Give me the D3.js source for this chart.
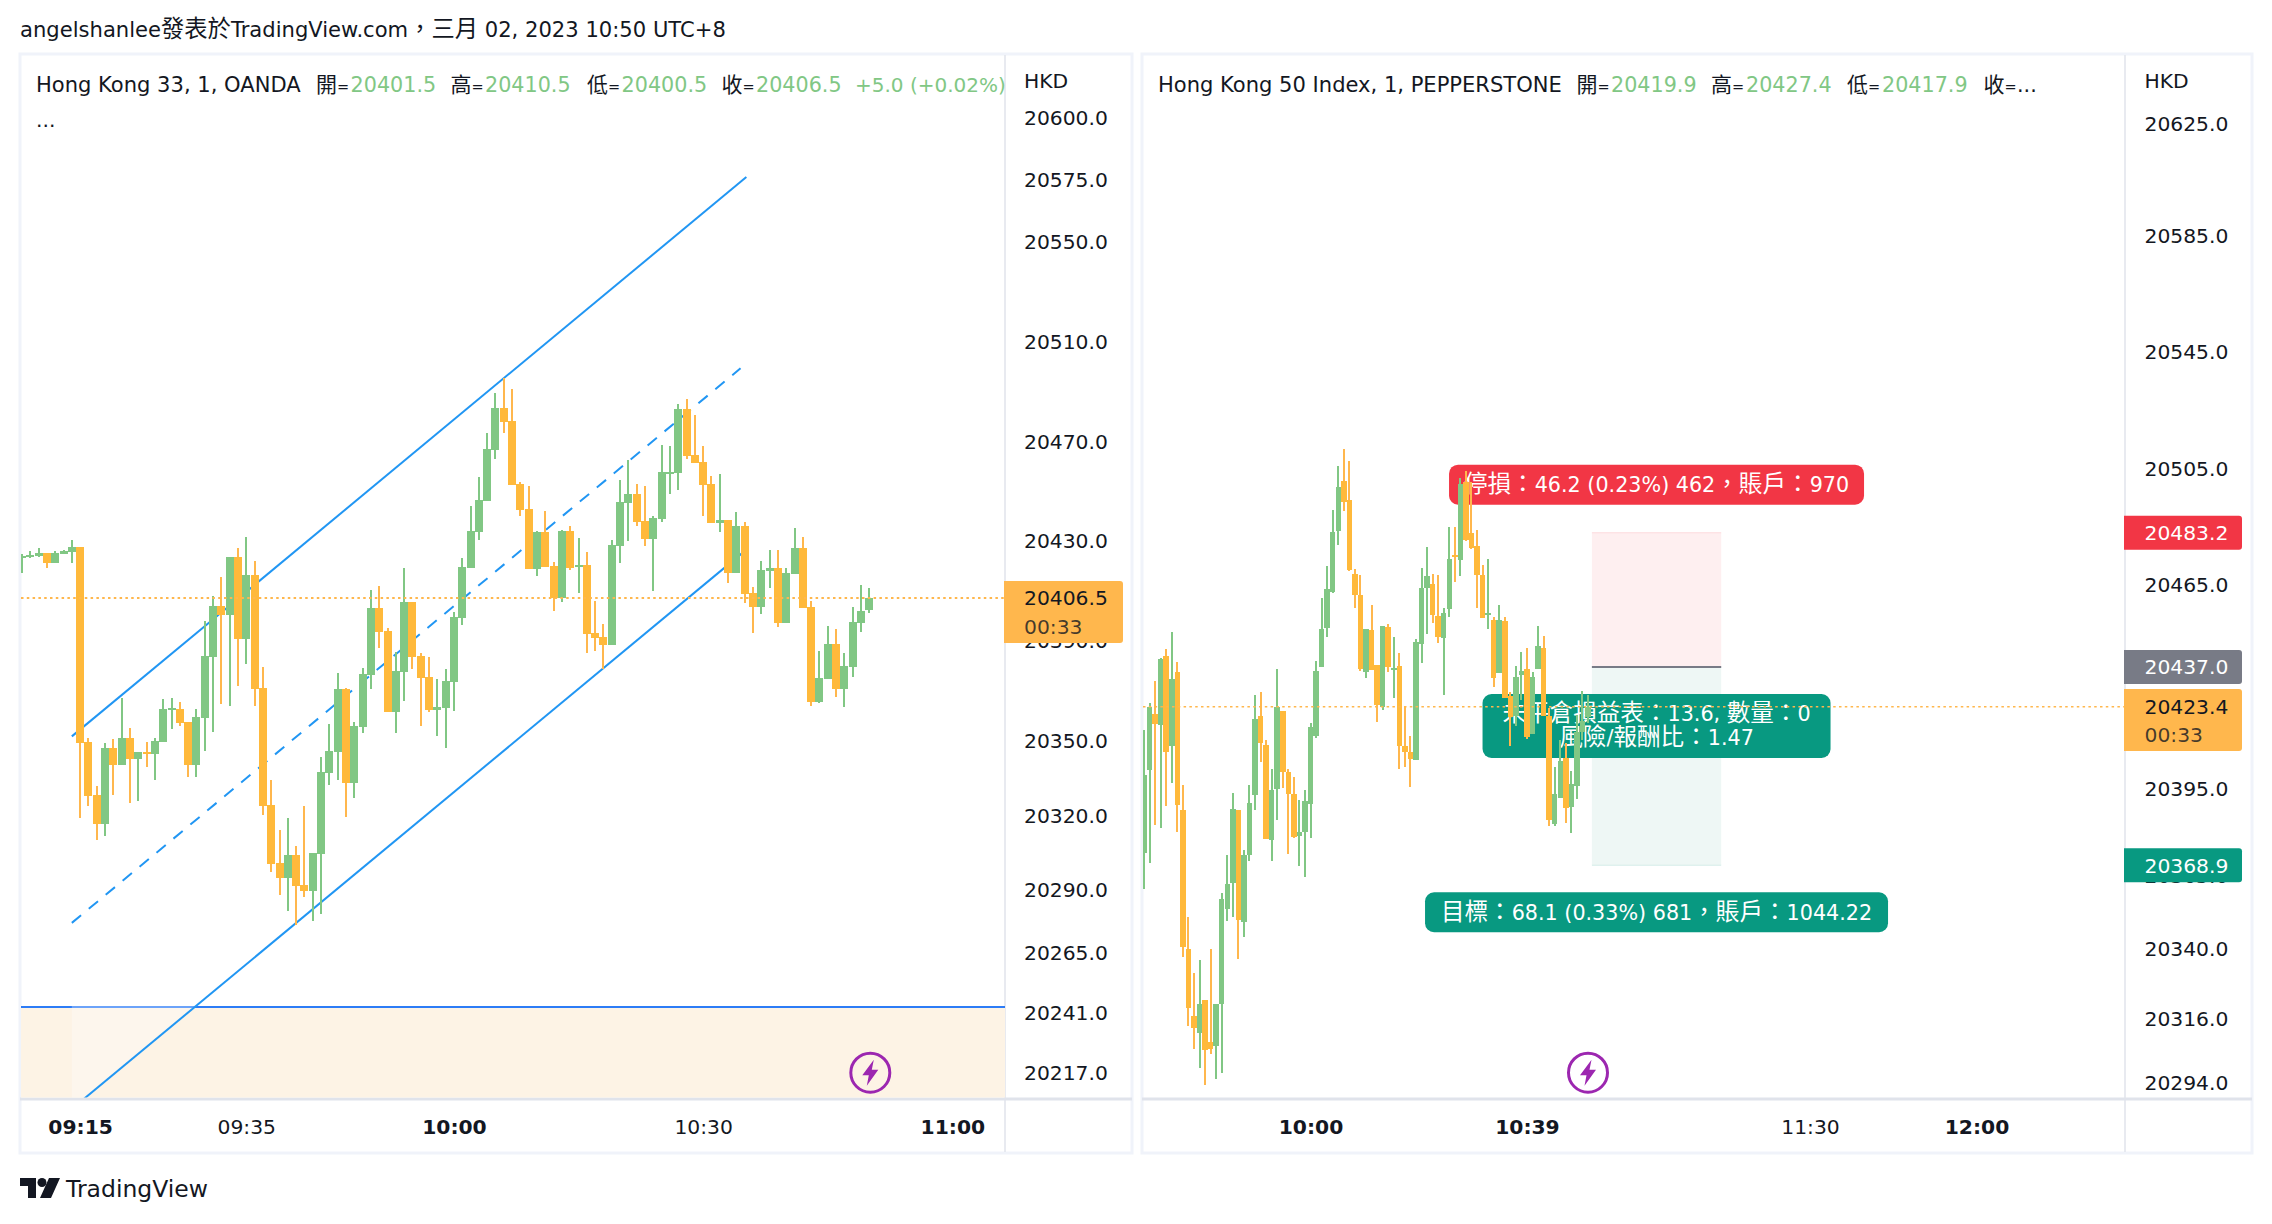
<!DOCTYPE html>
<html lang="zh-Hant">
<head>
<meta charset="utf-8">
<script src="https://cdn.jsdelivr.net/npm/d3@7"></script>
<style>
  html, body { margin: 0; padding: 0; background: #fff; }
  svg { display: block; }
  text { font-family: "DejaVu Sans", "Noto Sans CJK TC", sans-serif; font-size: 20.3px; fill: #131722; }
</style>
</head>
<body>
<svg id="chart" width="2272" height="1224"></svg>
<script>
// Hong Kong 33, 1 minute, OANDA
const hk33Open = [
  20422.6,20422.9,20423.4,20424.5,20420.5,20424.3,20424.9,20426.9,20348.8,20327.5,
  20315.8,20346.4,20339.5,20350.3,20341.9,20344.7,20343.9,20348.8,20361.5,20362.0,
  20356.8,20339.5,20358.3,20382.9,20403.3,20399.6,20422.9,20390.1,20415.7,20370.4,
  20323.5,20300.2,20294.2,20303.4,20291.4,20289.0,20303.8,20336.4,20344.7,20370.0,
  20332.2,20354.8,20375.7,20402.5,20393.3,20360.8,20376.9,20404.8,20383.2,20374.7,
  20361.5,20362.3,20372.9,20398.5,20418.5,20432.9,20445.3,20465.9,20482.6,20477.4,
  20452.2,20442.2,20418.1,20433.0,20419.3,20406.5,20433.4,20418.8,20419.7,20392.5,
  20390.9,20387.7,20427.4,20444.6,20448.2,20437.4,20430.2,20438.2,20456.5,20456.6,
  20482.3,20463.9,20461.0,20452.2,20436.7,20437.8,20416.5,20435.4,20408.5,20402.9,
  20417.3,20418.5,20396.5,20416.1,20426.6,20402.9,20364.8,20374.0,20388.1,20370.0,
  20378.8,20396.5,20401.5];
const hk33High = [
  20424.2,20425.4,20426.6,20424.5,20425.4,20425.7,20429.7,20426.9,20350.3,20331.2,
  20348.3,20349.9,20366.5,20354.3,20344.7,20348.8,20350.3,20366.0,20366.5,20364.8,
  20356.8,20362.0,20397.3,20407.1,20415.0,20422.9,20426.6,20430.9,20421.4,20379.0,
  20333.5,20313.5,20318.3,20307.1,20323.0,20304.2,20342.7,20356.0,20376.4,20370.4,
  20356.8,20378.4,20409.7,20411.3,20394.4,20384.7,20418.5,20404.8,20384.4,20382.9,
  20374.0,20378.0,20400.8,20422.5,20443.3,20455.0,20472.7,20488.8,20494.8,20490.3,
  20453.0,20451.4,20433.4,20441.4,20420.9,20433.8,20435.4,20430.6,20425.0,20405.3,
  20396.1,20429.8,20453.8,20461.8,20452.2,20451.4,20439.4,20467.9,20467.5,20484.3,
  20486.3,20479.9,20467.5,20455.4,20456.2,20437.8,20441.0,20437.0,20410.9,20421.3,
  20425.8,20425.8,20418.5,20434.6,20431.0,20405.3,20385.2,20395.3,20394.1,20384.4,
  20402.9,20411.7,20410.5];
const hk33Low = [
  20416.5,20422.6,20423.1,20418.5,20420.5,20424.3,20420.5,20318.3,20323.0,20309.4,
  20311.1,20327.5,20339.5,20324.3,20325.0,20338.7,20333.5,20348.8,20354.0,20355.1,
  20334.7,20334.7,20345.1,20352.8,20364.0,20363.2,20371.2,20380.0,20363.2,20319.5,
  20296.6,20287.4,20281.0,20275.5,20286.7,20277.0,20279.7,20331.5,20333.5,20318.7,
  20326.2,20352.3,20370.0,20386.4,20360.8,20352.3,20365.2,20378.0,20355.1,20360.8,
  20351.1,20346.4,20361.2,20395.5,20418.5,20429.7,20445.3,20462.2,20472.7,20451.8,
  20439.4,20418.1,20415.3,20418.9,20401.3,20404.9,20417.7,20408.5,20384.4,20385.2,
  20378.0,20387.7,20420.5,20429.4,20435.4,20427.4,20409.3,20437.0,20448.2,20449.8,
  20462.3,20460.6,20439.4,20436.6,20433.0,20412.5,20416.5,20404.5,20392.5,20400.1,
  20410.5,20394.9,20396.5,20416.1,20402.5,20363.2,20364.4,20374.0,20366.8,20362.8,
  20374.8,20392.9,20400.5];
const hk33Close = [
  20423.4,20423.6,20424.5,20420.5,20424.5,20425.4,20426.9,20348.3,20327.0,20315.8,
  20346.4,20339.5,20350.3,20341.9,20344.7,20344.1,20349.1,20362.0,20362.2,20356.3,
  20339.5,20358.8,20383.2,20403.3,20399.6,20422.9,20390.1,20415.7,20370.1,20323.0,
  20299.9,20294.2,20303.4,20291.0,20289.0,20304.2,20336.7,20345.1,20370.0,20332.2,
  20355.1,20376.0,20402.5,20392.9,20360.8,20377.2,20404.8,20382.9,20374.4,20361.5,
  20362.6,20373.2,20398.8,20418.9,20433.4,20445.8,20466.2,20482.6,20477.1,20451.8,
  20441.8,20418.1,20433.0,20418.9,20406.5,20433.4,20418.5,20419.7,20392.1,20390.5,
  20387.7,20427.8,20445.0,20448.2,20437.0,20430.2,20438.6,20457.0,20457.2,20482.3,
  20463.5,20460.6,20451.8,20436.6,20437.8,20416.5,20435.4,20408.1,20402.9,20417.7,
  20418.5,20396.5,20416.5,20426.6,20402.5,20364.8,20374.4,20388.1,20370.0,20379.2,
  20396.9,20401.3,20406.5];

const hk33PriceTicks = [20600,20575,20550,20510,20470,20430,20390,20350,20320,20290,20265,20241,20217];
const hk33TimeTicks = [7, 27, 52, 82, 112];
const hk33TimeLabels = ['09:15', '09:35', '10:00', '10:30', '11:00'];
const hk33TimeBold = [true, false, true, false, true];
const hk33Channel = [
  { name: 'upper', from: [6, 20351.0], to: [87.2, 20575.3] },
  { name: 'middle', from: [6, 20276.2], to: [86.5, 20498.6] },
  { name: 'lower', from: [6, 20201.6], to: [87.2, 20425.9] }
];
const hk33Support = 20242.5;
const hk33Last = 20406.5;

// Hong Kong 50 Index, 1 minute, PEPPERSTONE
const hk50Open = [
  20373.2,20401.6,20420.9,20417.1,20440.8,20409.9,20435.3,20387.9,20340.1,20317.1,
  20311.3,20322.6,20308.2,20306.8,20321.2,20353.9,20362.8,20387.9,20349.4,20372.4,
  20393.0,20420.2,20410.2,20377.6,20395.1,20421.9,20400.9,20393.4,20379.0,20380.3,
  20390.0,20413.3,20437.0,20450.4,20462.8,20483.8,20500.9,20494.4,20469.0,20461.8,
  20435.3,20449.7,20437.7,20423.3,20450.8,20436.1,20437.4,20409.9,20407.8,20405.1,
  20444.9,20464.2,20465.5,20454.5,20447.0,20457.0,20475.5,20473.8,20500.6,20483.1,
  20478.6,20468.6,20455.0,20453.2,20435.0,20452.8,20427.1,20420.2,20434.3,20436.3,
  20414.0,20436.3,20443.6,20420.2,20383.1,20392.0,20405.8,20388.9,20396.1,20414.7,
  20419.9];
const hk50High = [
  20415.4,20424.7,20432.2,20440.1,20443.2,20449.1,20438.8,20396.5,20351.1,20331.9,
  20336.3,20322.6,20340.1,20321.2,20359.4,20372.4,20393.7,20387.9,20374.1,20396.5,
  20427.4,20428.4,20411.9,20402.0,20436.3,20421.9,20402.0,20399.2,20391.3,20394.8,
  20417.8,20439.1,20460.7,20471.7,20491.0,20506.1,20511.9,20507.8,20470.7,20468.6,
  20450.1,20458.3,20437.7,20451.1,20451.8,20447.3,20441.8,20423.3,20413.3,20446.6,
  20471.0,20478.3,20469.0,20468.6,20457.3,20485.1,20485.1,20502.0,20504.4,20500.6,
  20484.1,20472.1,20474.1,20454.2,20458.3,20454.2,20428.4,20437.4,20442.2,20443.6,
  20435.3,20451.1,20447.7,20422.9,20402.7,20411.9,20410.9,20401.3,20420.5,20428.8,
  20427.4];
const hk50Low = [
  20360.7,20369.7,20382.7,20381.7,20389.3,20397.2,20380.3,20337.4,20313.7,20305.8,
  20299.2,20293.4,20304.0,20295.5,20297.5,20349.7,20351.1,20336.7,20344.2,20370.4,
  20387.9,20404.4,20377.9,20370.4,20384.5,20395.4,20372.8,20378.3,20368.6,20364.9,
  20378.3,20412.6,20437.0,20447.3,20462.5,20479.0,20490.6,20470.0,20457.3,20435.6,
  20433.2,20436.0,20418.1,20422.2,20435.3,20426.4,20402.0,20402.7,20395.8,20405.1,
  20438.4,20448.4,20452.1,20445.3,20427.4,20454.2,20466.2,20468.3,20480.3,20477.6,
  20457.3,20453.9,20450.1,20430.2,20435.0,20426.4,20409.9,20416.8,20425.7,20412.3,
  20414.0,20436.3,20420.2,20382.4,20382.4,20392.0,20383.4,20380.0,20391.7,20411.9,
  20417.9];
const hk50Close = [
  20399.9,20423.3,20417.6,20439.8,20407.8,20432.9,20389.6,20340.8,20319.8,20313.0,
  20321.2,20305.4,20305.8,20321.2,20357.3,20362.5,20388.2,20350.1,20372.4,20390.3,
  20419.2,20410.9,20377.9,20394.8,20423.3,20400.9,20393.4,20378.6,20380.3,20391.0,
  20416.4,20435.7,20450.1,20463.8,20483.4,20498.9,20493.7,20470.4,20461.8,20436.3,
  20450.1,20436.0,20424.0,20451.1,20437.0,20436.6,20409.9,20407.8,20405.4,20445.6,
  20464.2,20468.3,20454.9,20447.3,20455.6,20474.1,20474.9,20499.9,20480.7,20477.9,
  20468.6,20453.9,20455.5,20433.2,20453.2,20426.4,20419.8,20433.6,20435.6,20413.0,
  20433.6,20444.2,20420.2,20384.4,20393.4,20404.7,20388.6,20396.8,20414.7,20418.5,
  20423.4];

const hk50PriceTicks = [20625,20585,20545,20505,20465,20395,20365,20340,20316,20294];
const hk50TimeTicks = [30, 69, 120, 150];
const hk50TimeLabels = ['10:00', '10:39', '11:30', '12:00'];
const hk50TimeBold = [true, true, false, true];
const hk50Last = 20423.4;
const positionEntry = 20437.0;
const positionStop = 20483.2;
const positionTarget = 20368.9;
const positionBars = [80.7, 104];

const titleText = 'angelshanlee發表於TradingView.com，三月 02, 2023 10:50 UTC+8';
const stopText = '停損：46.2 (0.23%) 462，賬戶：970';
const openText = ['未平倉損益表：13.6, 數量：0', '風險/報酬比：1.47'];
const targetText = '目標：68.1 (0.33%) 681，賬戶：1044.22';

const GREEN = '#81c784', ORANGE = '#ffb74d', BODY_ORANGE = '#ffb93b';
const RED = '#f23645', TEAL = '#089981', GREY = '#787b86', BLUE = '#2196f3';

const svg = d3.select('#chart');
const defs = svg.append('defs');

function zip(o, h, l, c) {
  return o.map((v, i) => ({ i: i, o: v, h: h[i], l: l[i], c: c[i] }));
}

// the CJK glyphs run larger than the latin ones in the original
function mixed(t, str, latinSize, cjkSize) {
  str.split(/([\u3000-\u9fff\uff00-\uffef]+)/).filter(s => s).forEach(s => {
    let cjk = /[\u3000-\u9fff\uff00-\uffef]/.test(s);
    t.append('tspan').style('font-size', cjk ? cjkSize : latinSize).text(s);
  });
  return t;
}

// frame, axis divider and time scale divider of one chart
function frame(x0, x1, divider) {
  let g = svg.append('g');
  g.append('rect').attr('x', x0).attr('y', 54).attr('width', x1 - x0).attr('height', 1099)
    .attr('fill', '#fff').attr('stroke', '#f0f3fa').attr('stroke-width', 3);
  g.append('line').attr('x1', divider).attr('x2', divider).attr('y1', 55).attr('y2', 1152)
    .attr('stroke', '#e0e3eb').attr('stroke-width', 1.5);
  g.append('line').attr('x1', x0).attr('x2', x1).attr('y1', 1099).attr('y2', 1099)
    .attr('stroke', '#e0e3eb').attr('stroke-width', 3);
}

function clip(id, x0, x1) {
  defs.append('clipPath').attr('id', id).append('rect')
    .attr('x', x0).attr('y', 56).attr('width', x1 - x0).attr('height', 1041.5);
}

function candles(parent, rows, x, y, bodyWidth) {
  let g = parent.append('g').attr('shape-rendering', 'crispEdges');
  g.selectAll('line').data(rows).enter().append('line')
    .attr('x1', d => x(d.i)).attr('x2', d => x(d.i))
    .attr('y1', d => y(d.h)).attr('y2', d => y(d.l))
    .attr('stroke', d => d.c >= d.o ? GREEN : ORANGE)
    .attr('stroke-width', 2);
  g.selectAll('rect').data(rows).enter().append('rect')
    .attr('x', d => x(d.i) - bodyWidth / 2)
    .attr('width', bodyWidth)
    .attr('y', d => y(Math.max(d.o, d.c)))
    .attr('height', d => Math.max(2, Math.abs(y(d.o) - y(d.c))))
    .attr('fill', d => d.c >= d.o ? GREEN : BODY_ORANGE);
}

function priceAxis(left, y, ticks, nudge, topLimit) {
  let g = svg.append('g').attr('transform', 'translate(' + left + ',0)')
    .call(d3.axisRight(y).tickValues(ticks).tickSize(0).tickPadding(0).tickFormat(d3.format('.1f')));
  g.select('.domain').remove();
  g.selectAll('text').attr('fill', null);
  g.attr('font-family', null).attr('font-size', null);
  g.selectAll('.tick').attr('transform', d => 'translate(0,' + Math.max(y(d) + nudge, topLimit) + ')');
}

function timeAxis(x, ticks, labels, bold) {
  let g = svg.append('g').attr('transform', 'translate(0,1127)')
    .call(d3.axisBottom(x).tickValues(ticks).tickSize(0).tickPadding(0).tickFormat((d, i) => labels[i]));
  g.select('.domain').remove();
  g.attr('font-family', null).attr('font-size', null);
  g.selectAll('text').attr('fill', null).attr('dy', '0.36em').attr('y', 0)
    .attr('font-weight', (d, i) => bold[i] ? 700 : 400);
}

// legend parts: text, start x, colour, latin size
function legend(y, parts) {
  parts.forEach(p => {
    let t = svg.append('text').attr('x', p[1]).attr('y', y).attr('dy', '0.36em');
    if (p[2]) t.style('fill', p[2]);
    // the equals sign of the source font is much narrower than DejaVu's
    let size = /^.=/.test(p[0]) ? '14.5px' : (p[3] || '20.7px');
    mixed(t, p[0], size, '21px');
  });
}

function priceTag(x, y0, y1, fill, lines, color, textX, textYs) {
  svg.append('path').attr('fill', fill)
    .attr('d', 'M' + x[0] + ',' + y0 + 'H' + (x[1] - 3) + 'Q' + x[1] + ',' + y0 + ' ' + x[1] + ',' + (y0 + 3) +
      'V' + (y1 - 3) + 'Q' + x[1] + ',' + y1 + ' ' + (x[1] - 3) + ',' + y1 + 'H' + x[0] + 'Z');
  lines.forEach((s, i) => {
    svg.append('text').attr('x', textX).attr('y', textYs[i]).attr('dy', '0.36em')
      .style('fill', color).style('fill-opacity', i === 1 ? 0.8 : 1).text(s);
  });
}

function bolt(parent, cx, cy) {
  let g = parent.append('g').attr('transform', 'translate(' + cx + ',' + cy + ')');
  g.append('circle').attr('r', 19.5).attr('fill', 'none').attr('stroke', '#9c27b0').attr('stroke-width', 3);
  g.append('path').attr('d', 'M3.5,-13 L-8,2.5 L-1.5,2.5 L-3.5,13 L8,-3 L1.5,-3 Z').attr('fill', '#9c27b0');
}

function toolLabel(parent, cx, cy, h, w, fill, lines) {
  parent.append('rect').attr('x', cx - w / 2).attr('y', cy - h / 2).attr('width', w).attr('height', h)
    .attr('rx', 9).attr('fill', fill);
  lines.forEach((s, i) => {
    let t = parent.append('text').attr('x', cx).attr('y', cy + (i - (lines.length - 1) / 2) * 24).attr('dy', '0.36em')
      .attr('text-anchor', 'middle').style('fill', '#fff');
    mixed(t, s, '20.7px', '23.6px');
    t.selectAll('tspan').style('fill', '#fff');
  });
}

// page title and footer
mixed(svg.append('text').attr('x', 20).attr('y', 30).attr('dy', '0.36em'), titleText, '21.1px', '23.3px');
svg.append('path').attr('transform', 'translate(20,1178)').attr('fill', '#131722')
  .attr('d', 'M0,0H16V20H8V8H0Z M29,0H40L31,20H20Z');
svg.append('circle').attr('cx', 42).attr('cy', 1182.5).attr('r', 4.5).attr('fill', '#131722');
svg.append('text').attr('x', 66).attr('y', 1189).attr('dy', '0.36em').style('font-size', '23.5px').text('TradingView');

// ---- left chart ----
frame(20, 1132, 1005);
clip('clipLeft', 21, 1005);
let xL = d3.scaleLinear().domain([0, 102]).range([22, 869.3]);
let yL = d3.scaleLinear().domain([20600, 20217]).range([115.5, 1070.5]);
let paneL = svg.append('g').attr('clip-path', 'url(#clipLeft)');

paneL.append('rect').attr('x', 21).attr('width', 984).attr('y', yL(hk33Support)).attr('height', 120)
  .attr('fill', '#fdf3e5');
paneL.append('line').attr('x1', 21).attr('x2', 1005).attr('y1', yL(hk33Support)).attr('y2', yL(hk33Support))
  .attr('stroke', '#2d7cf6').attr('stroke-width', 2);
// channel background washes out what lies under it
let channelUpper = hk33Channel[0], channelLower = hk33Channel[2];
paneL.append('path')
  .attr('d', d3.line()([
    [xL(channelUpper.from[0]), yL(channelUpper.from[1])],
    [xL(channelUpper.to[0]), yL(channelUpper.to[1])],
    [xL(channelLower.to[0]), yL(channelLower.to[1])],
    [xL(channelLower.from[0]), yL(channelLower.from[1])]
  ]) + 'Z')
  .attr('fill', '#fff').attr('fill-opacity', 0.3);
paneL.selectAll('line.channel').data(hk33Channel).enter().append('line').classed('channel', true)
  .attr('x1', d => xL(d.from[0])).attr('y1', d => yL(d.from[1]))
  .attr('x2', d => xL(d.to[0])).attr('y2', d => yL(d.to[1]))
  .attr('stroke', BLUE).attr('stroke-width', 2)
  .attr('stroke-dasharray', d => d.name === 'middle' ? '12 10' : null);
candles(paneL, zip(hk33Open, hk33High, hk33Low, hk33Close), xL, yL, 8);
paneL.append('line').attr('x1', 21).attr('x2', 1005).attr('y1', yL(hk33Last)).attr('y2', yL(hk33Last))
  .attr('stroke', ORANGE).attr('stroke-width', 2).attr('stroke-dasharray', '2.5 3.3');
bolt(paneL, xL(102) + 1, 1072.7);

legend(85, [
  ['Hong Kong 33, 1, OANDA', 36, null, '21.05px'], ['開=', 316], ['20401.5', 350.6, GREEN], ['高=', 450.6],
  ['20410.5', 485, GREEN], ['低=', 587], ['20400.5', 621.6, GREEN], ['收=', 721.6], ['20406.5', 756, GREEN],
  ['+5.0 (+0.02%)', 855, GREEN, '20px']
]);
svg.append('text').attr('x', 36).attr('y', 120).attr('dy', '0.36em').text('...');
svg.append('text').attr('x', 1024).attr('y', 81).attr('dy', '0.36em').text('HKD');
priceAxis(1024, yL, hk33PriceTicks, 2.5, 0);
priceTag([1004, 1123], 581, 643, ORANGE, ['20406.5', '00:33'], '#131722', 1024, [598, 627]);
timeAxis(xL, hk33TimeTicks, hk33TimeLabels, hk33TimeBold);

// ---- right chart ----
frame(1142, 2252, 2125);
clip('clipRight', 1143, 2125);
let xR = d3.scaleLinear().domain([0, 80]).range([1144, 1588]);
let yR = d3.scaleLinear().domain([20625, 20294]).range([120, 1083.2]);
let paneR = svg.append('g').attr('clip-path', 'url(#clipRight)');

// position tool
let boxX = xR(positionBars[0]), boxW = xR(positionBars[1]) - boxX, boxCx = boxX + boxW / 2;
paneR.append('rect').attr('x', boxX).attr('width', boxW).attr('y', yR(positionStop))
  .attr('height', yR(positionEntry) - yR(positionStop)).attr('fill', '#feeff0');
paneR.append('rect').attr('x', boxX).attr('width', boxW).attr('y', yR(positionEntry))
  .attr('height', yR(positionTarget) - yR(positionEntry)).attr('fill', '#eef7f5');
paneR.append('line').attr('x1', boxX).attr('x2', boxX + boxW).attr('y1', yR(positionStop)).attr('y2', yR(positionStop))
  .attr('stroke', '#fde3e5').attr('stroke-width', 1.5);
paneR.append('line').attr('x1', boxX).attr('x2', boxX + boxW).attr('y1', yR(positionTarget)).attr('y2', yR(positionTarget))
  .attr('stroke', '#dff1ee').attr('stroke-width', 1.5);
paneR.append('line').attr('x1', boxX).attr('x2', boxX + boxW).attr('y1', yR(positionEntry)).attr('y2', yR(positionEntry))
  .attr('stroke', GREY).attr('stroke-width', 2);
toolLabel(paneR, boxCx, yR(positionStop) - 48, 40, 415, RED, [stopText]);
toolLabel(paneR, boxCx, 726, 64, 348, TEAL, openText);
toolLabel(paneR, boxCx, yR(positionTarget) + 47, 40, 463, TEAL, [targetText]);

candles(paneR, zip(hk50Open, hk50High, hk50Low, hk50Close), xR, yR, 5.5);
paneR.append('line').attr('x1', 1143).attr('x2', 2125).attr('y1', yR(hk50Last)).attr('y2', yR(hk50Last))
  .attr('stroke', ORANGE).attr('stroke-width', 1.5).attr('stroke-dasharray', '2.5 3.3');
bolt(paneR, xR(80), 1072.7);

legend(85, [
  ['Hong Kong 50 Index, 1, PEPPERSTONE', 1158, null, '21.05px'], ['開=', 1576.5], ['20419.9', 1611, GREEN], ['高=', 1711],
  ['20427.4', 1746, GREEN], ['低=', 1847], ['20417.9', 1882, GREEN], ['收=', 1983.6], ['...', 2017]
]);
svg.append('text').attr('x', 2144.5).attr('y', 81).attr('dy', '0.36em').text('HKD');
priceAxis(2144.5, yR, hk50PriceTicks, 0, 124);
priceTag([2124, 2242], yR(positionStop) - 17, yR(positionStop) + 17, RED, ['20483.2'], '#fff', 2144.5, [yR(positionStop)]);
priceTag([2124, 2242], yR(positionEntry) - 17, yR(positionEntry) + 17, GREY, ['20437.0'], '#fff', 2144.5, [yR(positionEntry)]);
priceTag([2124, 2242], 689, 751, ORANGE, ['20423.4', '00:33'], '#131722', 2144.5, [707, 735]);
priceTag([2124, 2242], yR(positionTarget) - 17, yR(positionTarget) + 17, TEAL, ['20368.9'], '#fff', 2144.5, [yR(positionTarget)]);
timeAxis(xR, hk50TimeTicks, hk50TimeLabels, hk50TimeBold);
</script>
</body>
</html>
